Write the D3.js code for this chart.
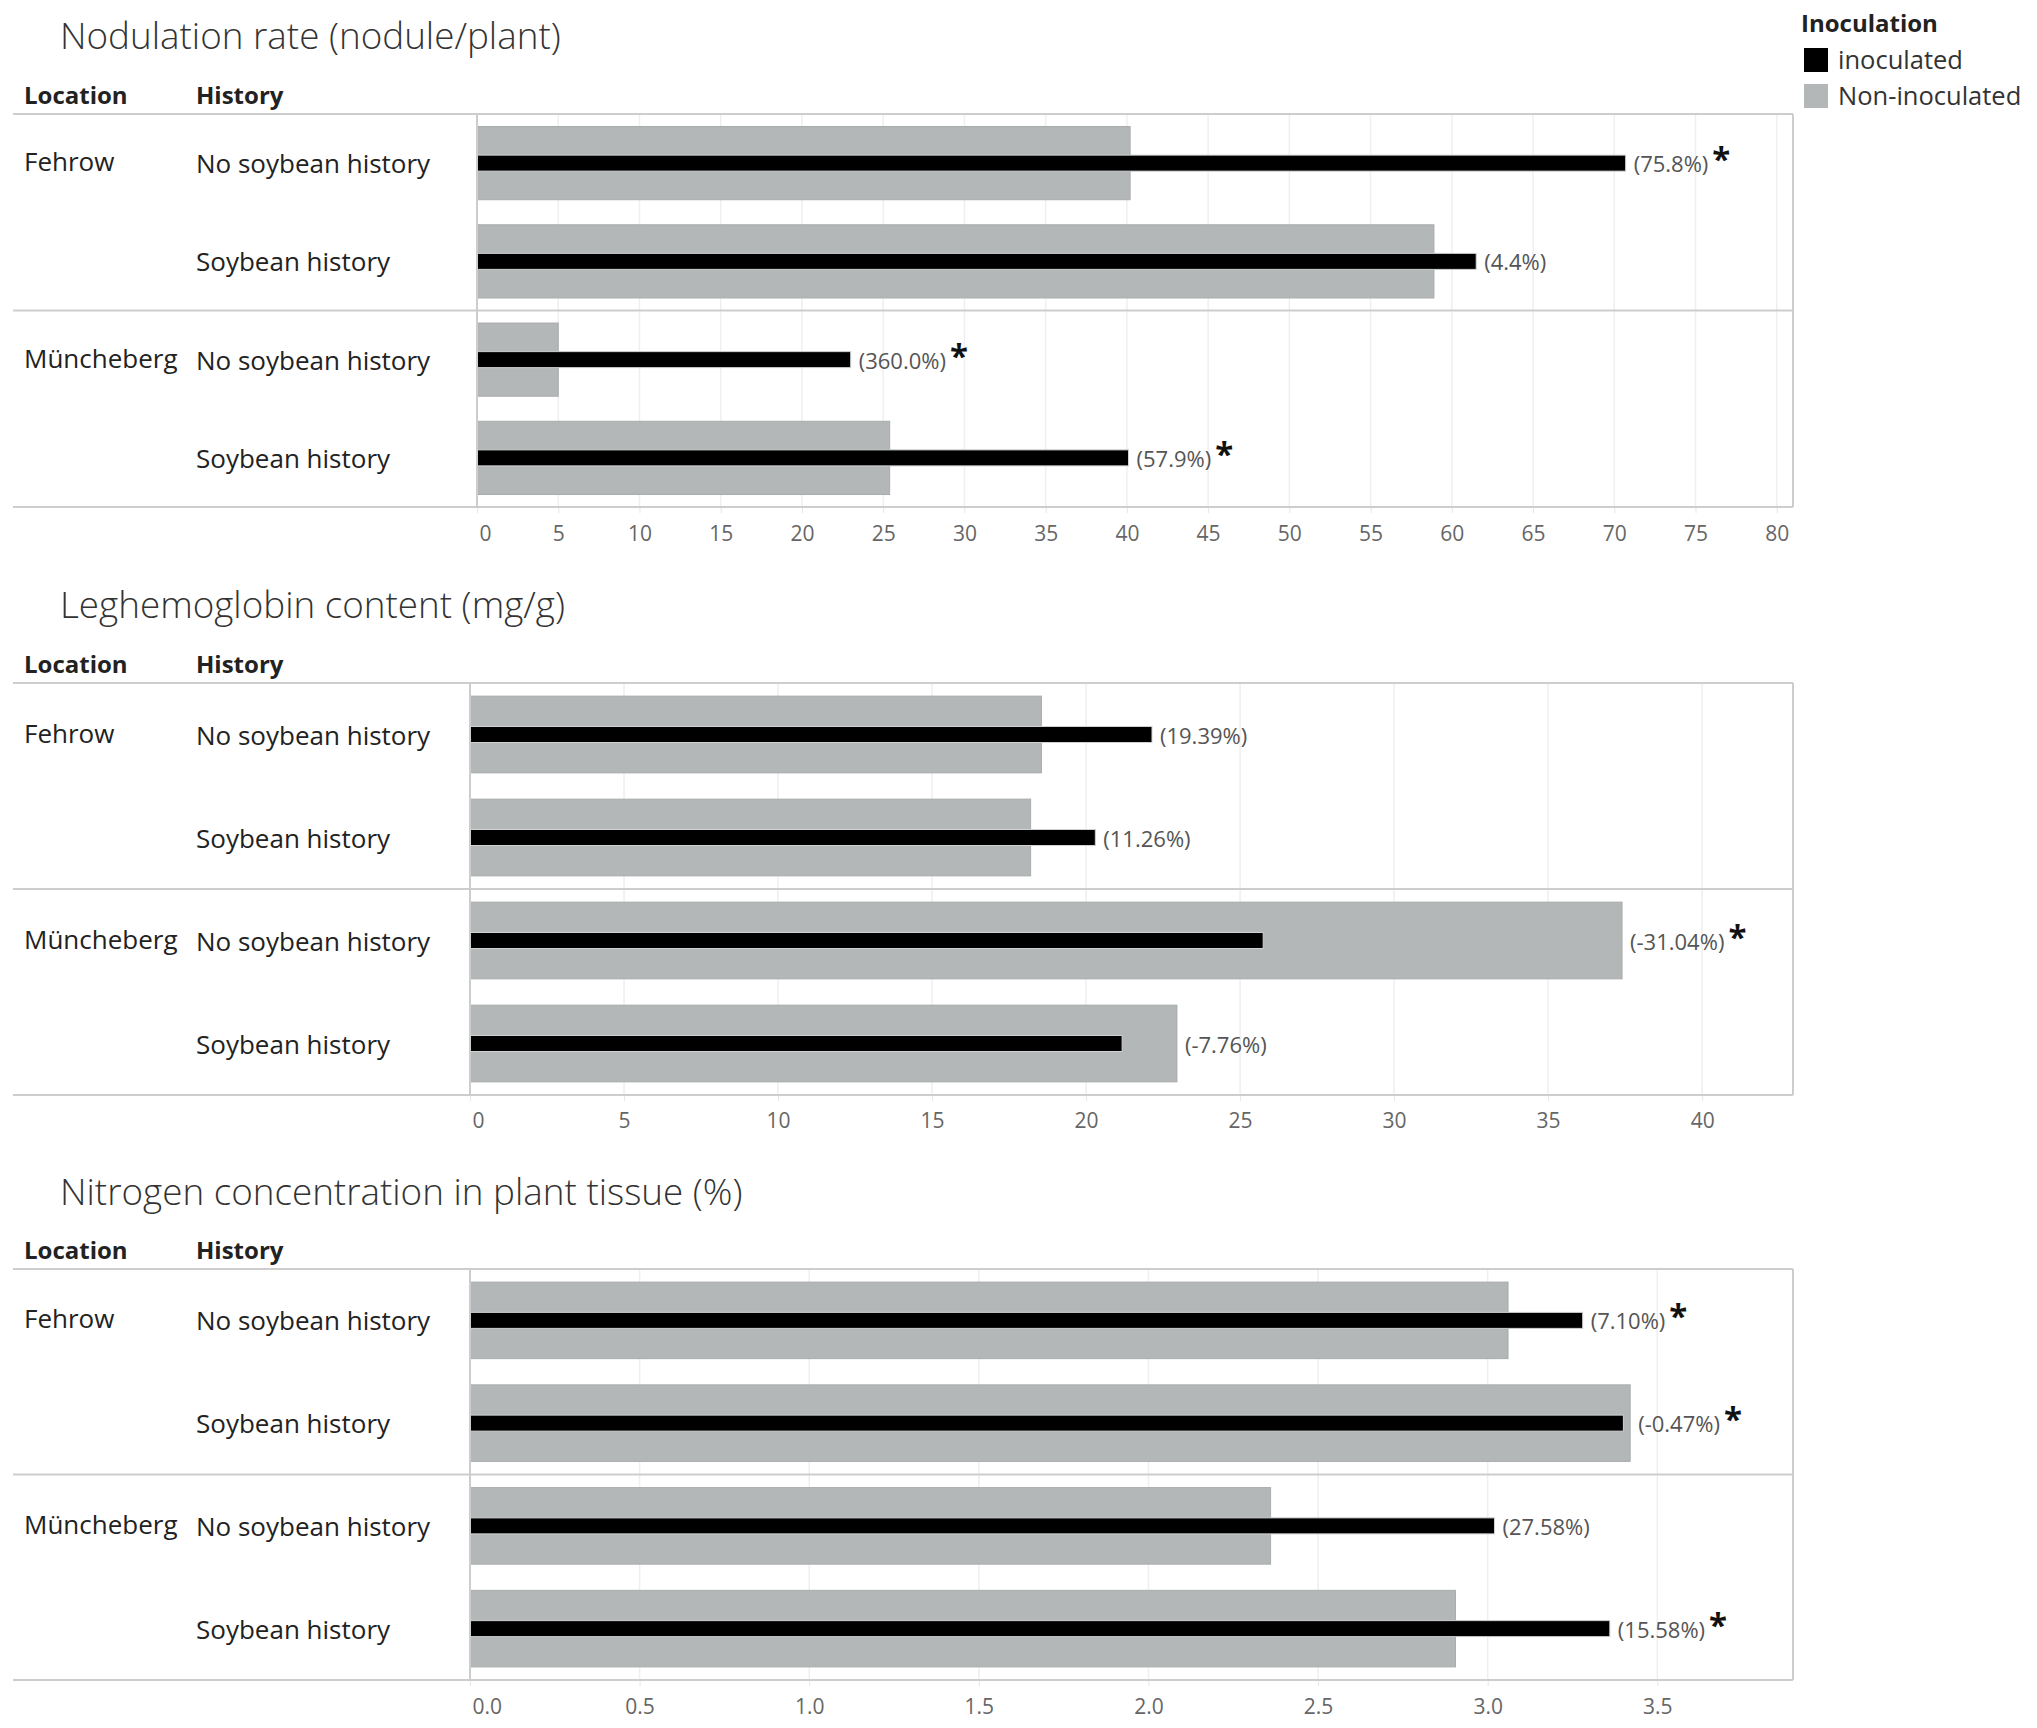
<!DOCTYPE html>
<html>
<head>
<meta charset="utf-8">
<script src="https://cdn.jsdelivr.net/npm/d3@7"></script>
<style>
  html, body { margin: 0; padding: 0; background: #fff; }
</style>
</head>
<body>
<div id="chart"></div>
<script>
const FONT = "'Open Sans', 'Noto Sans', sans-serif";

// rows shared by the three panels
const locations = ["Fehrow", "Fehrow", "Müncheberg", "Müncheberg"];
const histories = ["No soybean history", "Soybean history", "No soybean history", "Soybean history"];

// Nodulation rate
const nodInoc = [70.7, 61.5, 23.0, 40.1];
const nodNon = [40.2, 58.9, 5.0, 25.4];
const nodLabels = ["(75.8%)", "(4.4%)", "(360.0%)", "(57.9%)"];
const nodSig = [true, false, true, true];
const nodTicks = [0, 5, 10, 15, 20, 25, 30, 35, 40, 45, 50, 55, 60, 65, 70, 75, 80];

// Leghemoglobin content
const legInoc = [22.14, 20.3, 25.75, 21.17];
const legNon = [18.55, 18.2, 37.4, 22.95];
const legLabels = ["(19.39%)", "(11.26%)", "(-31.04%)", "(-7.76%)"];
const legSig = [false, false, true, false];
const legTicks = [0, 5, 10, 15, 20, 25, 30, 35, 40];

// Nitrogen concentration
const nitInoc = [3.28, 3.40, 3.02, 3.36];
const nitNon = [3.06, 3.42, 2.36, 2.905];
const nitLabels = ["(7.10%)", "(-0.47%)", "(27.58%)", "(15.58%)"];
const nitSig = [true, true, false, true];
const nitTicks = [0, 0.5, 1.0, 1.5, 2.0, 2.5, 3.0, 3.5];

const legendKeys = ["inoculated", "Non-inoculated"];
const colors = { inoc: "#000000", non: "#b4b7b8" };

const width = 2037, height = 1728;

const svg = d3.select("#chart").append("svg")
  .attr("width", width)
  .attr("height", height)
  .style("font-family", FONT);

const panels = [
  { title: "Nodulation rate (nodule/plant)", inoc: nodInoc, non: nodNon, labels: nodLabels, sig: nodSig,
    ticks: nodTicks, fmt: d3.format("d"), max: 81, titleY: 49, headY: 104, top: 114, bottom: 507, x0: 477, tickY: 541 },
  { title: "Leghemoglobin content (mg/g)", inoc: legInoc, non: legNon, labels: legLabels, sig: legSig,
    ticks: legTicks, fmt: d3.format("d"), max: 42.95, titleY: 618, headY: 673, top: 683, bottom: 1095, x0: 470, tickY: 1128 },
  { title: "Nitrogen concentration in plant tissue (%)", inoc: nitInoc, non: nitNon, labels: nitLabels, sig: nitSig,
    ticks: nitTicks, fmt: d3.format(".1f"), max: 3.9, titleY: 1205, headY: 1259, top: 1269, bottom: 1680, x0: 470, tickY: 1714 }
];

const xRight = 1793, xLeft = 13;
const lineColor = "#cdcdcd";

panels.forEach(p => {
  const g = svg.append("g");
  const x = d3.scaleLinear().domain([0, p.max]).range([p.x0, xRight]);
  const y = d3.scaleBand().domain(d3.range(4)).range([p.top, p.bottom]);
  const greyH = y.bandwidth() * 0.745;
  const blackH = 16;

  // title
  g.append("text")
    .attr("x", 60).attr("y", p.titleY)
    .attr("font-size", 36.8).attr("font-weight", 300).attr("fill", "#333")
    .text(p.title);

  // column headers
  g.append("text").attr("x", 24).attr("y", p.headY)
    .attr("font-size", 24).attr("font-weight", "bold").attr("fill", "#222").text("Location");
  g.append("text").attr("x", 196).attr("y", p.headY)
    .attr("font-size", 24).attr("font-weight", "bold").attr("fill", "#222").text("History");

  // gridlines
  g.append("g").selectAll("line")
    .data(p.ticks.slice(1))
    .join("line")
    .attr("x1", d => x(d)).attr("x2", d => x(d))
    .attr("y1", p.top).attr("y2", p.bottom)
    .attr("stroke", "#efefef").attr("stroke-width", 1.5);

  // non-inoculated bars (wide, grey)
  g.append("g").selectAll("rect")
    .data(p.non)
    .join("rect")
    .attr("x", x(0))
    .attr("y", (d, i) => y(i) + (y.bandwidth() - greyH) / 2)
    .attr("width", d => x(d) - x(0))
    .attr("height", greyH)
    .attr("fill", colors.non)
    .attr("stroke", "#a9acad").attr("stroke-width", 1);

  // inoculated bars (thin, black)
  g.append("g").selectAll("rect")
    .data(p.inoc)
    .join("rect")
    .attr("x", x(0))
    .attr("y", (d, i) => y(i) + (y.bandwidth() - blackH) / 2)
    .attr("width", d => x(d) - x(0))
    .attr("height", blackH)
    .attr("fill", colors.inoc)
    .attr("stroke", "#cfd1d2").attr("stroke-width", 1);

  // value labels with significance star
  const lab = g.append("g").selectAll("text")
    .data(p.labels)
    .join("text")
    .attr("x", (d, i) => x(Math.max(p.inoc[i], p.non[i])) + 8)
    .attr("y", (d, i) => y(i) + y.bandwidth() / 2)
    .attr("dominant-baseline", "central")
    .attr("font-size", 22).attr("fill", "#555");
  lab.append("tspan").text(d => d);
  lab.append("tspan")
    .attr("dx", 4).attr("dy", -5)
    .attr("font-size", 33).attr("font-weight", "bold").attr("fill", "#111")
    .text((d, i) => p.sig[i] ? "*" : "");

  // row labels
  g.append("g").selectAll("text")
    .data(histories)
    .join("text")
    .attr("x", 196)
    .attr("y", (d, i) => y(i) + y.bandwidth() / 2)
    .attr("dominant-baseline", "central")
    .attr("font-size", 26).attr("fill", "#222")
    .text(d => d);

  g.append("g").selectAll("text")
    .data(locations.filter((d, i) => i % 2 === 0))
    .join("text")
    .attr("x", 24)
    .attr("y", (d, i) => y(i * 2) + y.bandwidth() / 2 - 2)
    .attr("dominant-baseline", "central")
    .attr("font-size", 26).attr("fill", "#222")
    .text(d => d);

  // frame and separators
  [p.top, y(2), p.bottom].forEach(yy => {
    g.append("line").attr("x1", xLeft).attr("x2", xRight)
      .attr("y1", yy).attr("y2", yy)
      .attr("stroke", lineColor).attr("stroke-width", 2);
  });
  [p.x0, xRight].forEach(xx => {
    g.append("line").attr("x1", xx).attr("x2", xx)
      .attr("y1", p.top).attr("y2", p.bottom)
      .attr("stroke", lineColor).attr("stroke-width", 2);
  });

  // x axis
  const axis = d3.axisBottom(x).tickValues(p.ticks).tickFormat(p.fmt).tickSize(5).tickPadding(0);
  const ax = g.append("g").attr("transform", `translate(0,${p.bottom + 1})`).call(axis);
  ax.select(".domain").remove();
  ax.selectAll(".tick line").attr("stroke", "#e6e6e6");
  ax.selectAll(".tick text")
    .attr("y", p.tickY - p.bottom - 1)
    .attr("dy", 0)
    .attr("font-size", 21)
    .attr("font-family", FONT)
    .attr("fill", "#666");
  ax.selectAll(".tick text").filter(d => d === 0)
    .attr("text-anchor", "start")
    .attr("dx", 2);
});

// legend
const legend = svg.append("g");
legend.append("text").attr("x", 1801).attr("y", 32)
  .attr("font-size", 24).attr("font-weight", "bold").attr("fill", "#222")
  .text("Inoculation");
const legItems = legend.selectAll("g.item")
  .data(legendKeys)
  .join("g")
  .attr("class", "item")
  .attr("transform", (d, i) => `translate(1804,${48 + i * 36})`);
legItems.append("rect")
  .attr("width", 24).attr("height", 24)
  .attr("fill", (d, i) => i === 0 ? colors.inoc : colors.non);
legItems.append("text")
  .attr("x", 34).attr("y", 21)
  .attr("font-size", 25.5).attr("fill", "#333")
  .text(d => d);
</script>
</body>
</html>
